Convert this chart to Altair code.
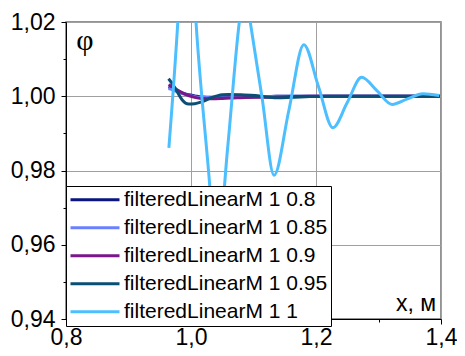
import altair as alt
import pandas as pd

series_names = ["filteredLinearM 1 0.8", "filteredLinearM 1 0.85", "filteredLinearM 1 0.9",
                "filteredLinearM 1 0.95", "filteredLinearM 1 1"]
colors = ["#0a1580", "#6b80ff", "#7a178a", "#0b4f74", "#4dbfff"]

x_smooth = [0.964, 0.97, 0.978, 0.986, 0.996, 1.006, 1.017, 1.034, 1.05, 1.06, 1.08, 1.103,
            1.12, 1.137, 1.16, 1.19, 1.22, 1.26, 1.30, 1.35, 1.398]
y_08 = [1.0025, 1.0021, 1.0015, 1.0009, 1.0004, 1.0001, 0.9998, 0.9997, 0.9997, 0.9997, 0.9998, 0.9999,
        0.9999, 1.0, 1.0, 1.0, 1.0, 1.0, 1.0, 1.0, 1.0]
y_085 = [1.0021, 1.0018, 1.0012, 1.0007, 1.0003, 0.9999, 0.9997, 0.9996, 0.9996, 0.9996, 0.9997, 0.9998,
         0.9999, 1.0, 1.0, 1.0, 1.0, 1.0, 1.0, 1.0, 1.0]
y_09 = [1.0031, 1.0026, 1.0017, 1.0009, 1.0002, 0.9997, 0.9994, 0.9993, 0.9994, 0.9995, 0.9996, 0.9997,
        0.9997, 0.9998, 0.9999, 1.0, 1.0, 1.0, 1.0, 1.0, 1.0]
y_095 = [1.0047, 1.0034, 1.0012, 0.9990, 0.9979, 0.9980, 0.9985, 0.9997, 1.0004, 1.0005, 1.0004, 1.0002,
         0.9998, 0.9996, 0.9997, 0.9999, 1.0, 1.0, 1.0, 1.0, 1.0]

x_10 = [0.9646, 0.9789, 0.993, 1.008, 1.029, 1.040, 1.0587, 1.0773, 1.086, 1.0948, 1.1139, 1.1329,
        1.1567, 1.1805, 1.2038, 1.227, 1.25, 1.273, 1.2974, 1.3217, 1.3464, 1.371, 1.397]
y_10 = [0.9861, 1.02, 1.065, 1.02, 0.978, 0.955, 0.9862, 1.02, 1.03, 1.02, 0.9994, 0.9787,
        0.9963, 1.0139, 1.0027, 0.9915, 0.9983, 1.0051, 1.0015, 0.9978, 0.9993, 1.0007, 1.0002]

x_ticks = [0.8, 0.9, 1.0, 1.1, 1.2, 1.3, 1.4]
y_ticks = [0.94, 0.95, 0.96, 0.97, 0.98, 0.99, 1.00, 1.01, 1.02]

rows = []
for name, ys in zip(series_names[:4], [y_08, y_085, y_09, y_095]):
    for xv, yv in zip(x_smooth, ys):
        rows.append({"series": name, "x": xv, "y": yv})
for xv, yv in zip(x_10, y_10):
    rows.append({"series": series_names[4], "x": xv, "y": yv})
df = pd.DataFrame(rows)

FONT = "Liberation Sans"
x_minor = "round(datum.value*10)%2==1"
y_minor = "round(datum.value*100)%2==1"

x_axis = alt.Axis(
    values=x_ticks, title=None, grid=True, gridColor="#a0a0a0", gridWidth=1,
    gridOpacity={"condition": {"test": x_minor, "value": 0}, "value": 1},
    tickSize={"condition": {"test": x_minor, "value": 3}, "value": 5},
    tickColor="black", domainColor="black", labelColor="black",
    labelFont=FONT, labelFontSize=23, labelPadding=2, labelFlush=False, labelOverlap=False,
    labelExpr=f"{x_minor} ? '' : replace(format(datum.value, '.1f'), '.', ',')",
)
y_axis = alt.Axis(
    values=y_ticks, title=None, grid=True, gridColor="#a0a0a0", gridWidth=1,
    gridOpacity={"condition": {"test": y_minor, "value": 0}, "value": 1},
    tickSize={"condition": {"test": y_minor, "value": 3}, "value": 5},
    tickColor="black", domainColor="black", labelColor="black",
    labelFont=FONT, labelFontSize=23, labelPadding=6, labelFlush=False, labelOverlap=False,
    labelExpr=f"{y_minor} ? '' : replace(format(datum.value, '.2f'), '.', ',')",
)

lines = alt.Chart(df).mark_line(clip=True, strokeWidth=3, interpolate="monotone").encode(
    x=alt.X("x:Q", scale=alt.Scale(domain=[0.8, 1.4], nice=False), axis=x_axis),
    y=alt.Y("y:Q", scale=alt.Scale(domain=[0.94, 1.02], nice=False, zero=False), axis=y_axis),
    color=alt.Color("series:N", scale=alt.Scale(domain=series_names, range=colors),
                    legend=alt.Legend(orient="none", legendX=0, legendY=164, title=None,
                                      symbolType="stroke", symbolSize=2400, symbolStrokeWidth=3,
                                      labelFont=FONT, labelFontSize=21, labelColor="black",
                                      labelOffset=3, labelLimit=0, clipHeight=21.4,
                                      fillColor="white", strokeColor="black",
                                      padding=3, rowPadding=5)),
)

phi = alt.Chart(pd.DataFrame({"t": ["φ"]})).mark_text(
    font="Liberation Serif", fontSize=30, align="center", baseline="middle", color="black"
).encode(text="t:N", x=alt.value(19), y=alt.value(19))

xlab = alt.Chart(pd.DataFrame({"t": ["x, м"]})).mark_text(
    font=FONT, fontSize=23, align="right", baseline="alphabetic", color="black"
).encode(text="t:N", x=alt.value(370), y=alt.value(289))

chart = alt.layer(lines, phi, xlab).properties(
    width=375, height=297,
    autosize=alt.AutoSizeParams(type="none"),
    padding={"left": 58, "top": 14, "right": 16, "bottom": 29},
).configure_view(stroke="#707070", strokeWidth=1.5)

chart.save("out.html", embed_options={"renderer": "svg", "actions": False})
